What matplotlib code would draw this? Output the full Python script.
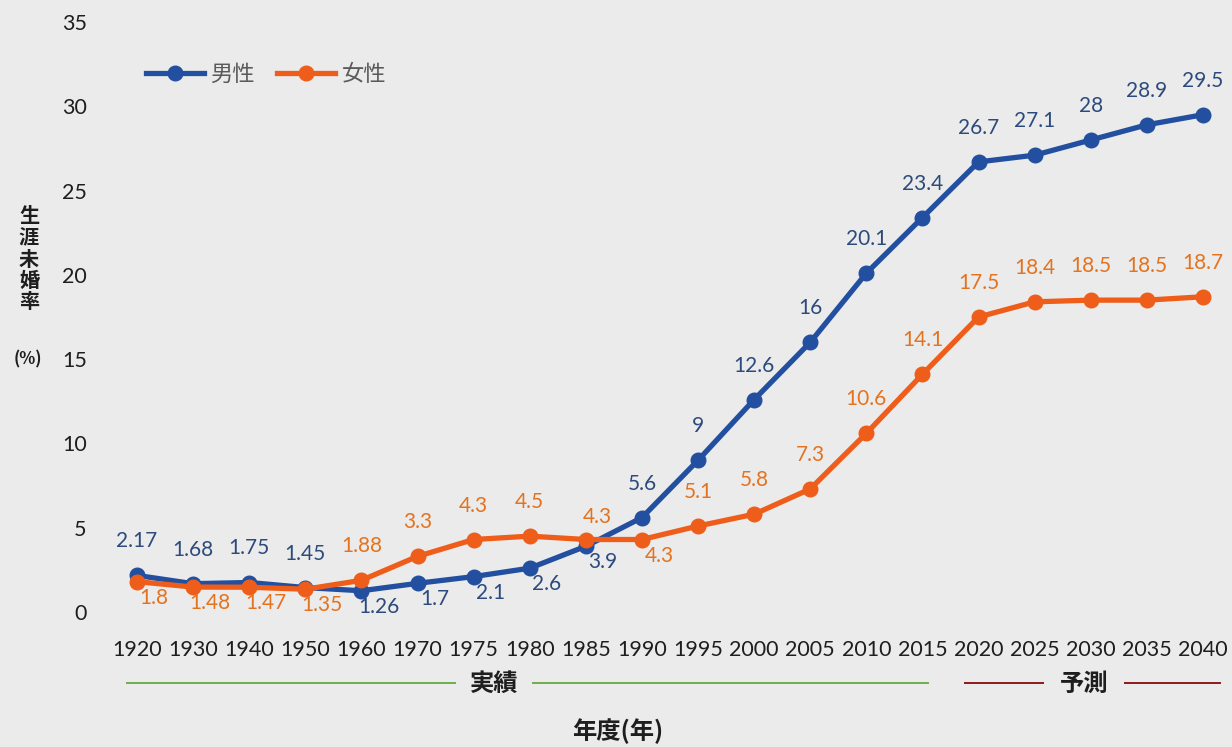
import matplotlib.pyplot as plt

plt.rcParams["font.family"] = ["Lato", "Noto Sans CJK JP", "DejaVu Sans"]

years = ["1920", "1930", "1940", "1950", "1960", "1970", "1975", "1980", "1985", "1990",
         "1995", "2000", "2005", "2010", "2015", "2020", "2025", "2030", "2035", "2040"]
male = [2.17, 1.68, 1.75, 1.45, 1.26, 1.7, 2.1, 2.6, 3.9, 5.6,
        9, 12.6, 16, 20.1, 23.4, 26.7, 27.1, 28, 28.9, 29.5]
female = [1.8, 1.48, 1.47, 1.35, 1.88, 3.3, 4.3, 4.5, 4.3, 4.3,
          5.1, 5.8, 7.3, 10.6, 14.1, 17.5, 18.4, 18.5, 18.5, 18.7]

# label placement: a = above, b = below-right, m = between
male_pos = list("aaaabbbbbaaaaaaaaaaa")
female_pos = list("bbbbaaaamb" + "a" * 10)
offsets = {"a": (0, 34), "b": (17, -16), "m": (11, 23)}

BG = "#ebebeb"
MALE_LINE, MALE_TEXT = "#224f9f", "#2c4a7c"
FEMALE_LINE, FEMALE_TEXT = "#ef5d1a", "#e4731f"
DARK = "#1e1e1e"

W, H = 1232, 747
fig = plt.figure(figsize=(W / 100, H / 100), dpi=100, facecolor=BG)
ax = fig.add_axes([109 / W, 135 / H, 1122 / W, 590 / H], facecolor=BG)

x = list(range(len(years)))
ax.plot(x, male, color=MALE_LINE, lw=3.8, marker="o", ms=10.5, label="男性")
ax.plot(x, female, color=FEMALE_LINE, lw=3.8, marker="o", ms=10.5, label="女性")

for series, pos, col in [(male, male_pos, MALE_TEXT), (female, female_pos, FEMALE_TEXT)]:
    for i, v in enumerate(series):
        ax.annotate(f"{v:g}", xy=(i, v), xytext=offsets[pos[i]],
                    textcoords="offset pixels", ha="center", va="center",
                    fontsize=15, color=col)

ax.set_xlim(-0.5, len(years) - 0.5)
ax.set_ylim(0, 35)
ax.set_xticks(x)
ax.set_xticklabels(years)
ax.set_yticks(range(0, 36, 5))
ax.tick_params(axis="x", length=0, pad=20, labelsize=15.5, colors=DARK)
ax.tick_params(axis="y", length=0, pad=16, labelsize=15.5, colors=DARK)
for s in ax.spines.values():
    s.set_visible(False)

leg = ax.legend(loc="upper left", bbox_to_anchor=(126 / W, 1 - 44 / H),
                bbox_transform=fig.transFigure, ncol=2, frameon=False,
                fontsize=16, handlelength=2.6, handletextpad=0.3,
                columnspacing=1.0)
for t in leg.get_texts():
    t.set_color("#5a5a5a")

# y axis label, stacked characters
for k, ch in enumerate("生涯未婚率"):
    fig.text(29 / W, 1 - (216 + 21.5 * k) / H, ch, ha="center", va="center",
             fontsize=14.5, fontweight="bold", family="Noto Sans CJK JP", color=DARK)
fig.text(28 / W, 1 - 359 / H, "(%)", ha="center", va="center",
         fontsize=12, fontweight="bold", family="Noto Sans CJK JP", color=DARK)

# period brackets under the axis
def hline(x0, x1, y, color):
    fig.add_artist(plt.Line2D([x0 / W, x1 / W], [1 - y / H, 1 - y / H],
                              color=color, lw=1.4, transform=fig.transFigure))

hline(127, 455, 683, "#6fae4a")
hline(533, 928, 683, "#6fae4a")
hline(965, 1043, 683, "#8b1a1a")
hline(1125, 1220, 683, "#8b1a1a")
for label, xc, yc in [("実績", 494, 684), ("予測", 1084, 684), ("年度(年)", 618, 731)]:
    fig.text(xc / W, 1 - yc / H, label, ha="center", va="center", fontsize=17.5,
             fontweight="bold", family="Noto Sans CJK JP", color=DARK)

plt.savefig("out.png", dpi=100, facecolor=BG)
plt.close()
